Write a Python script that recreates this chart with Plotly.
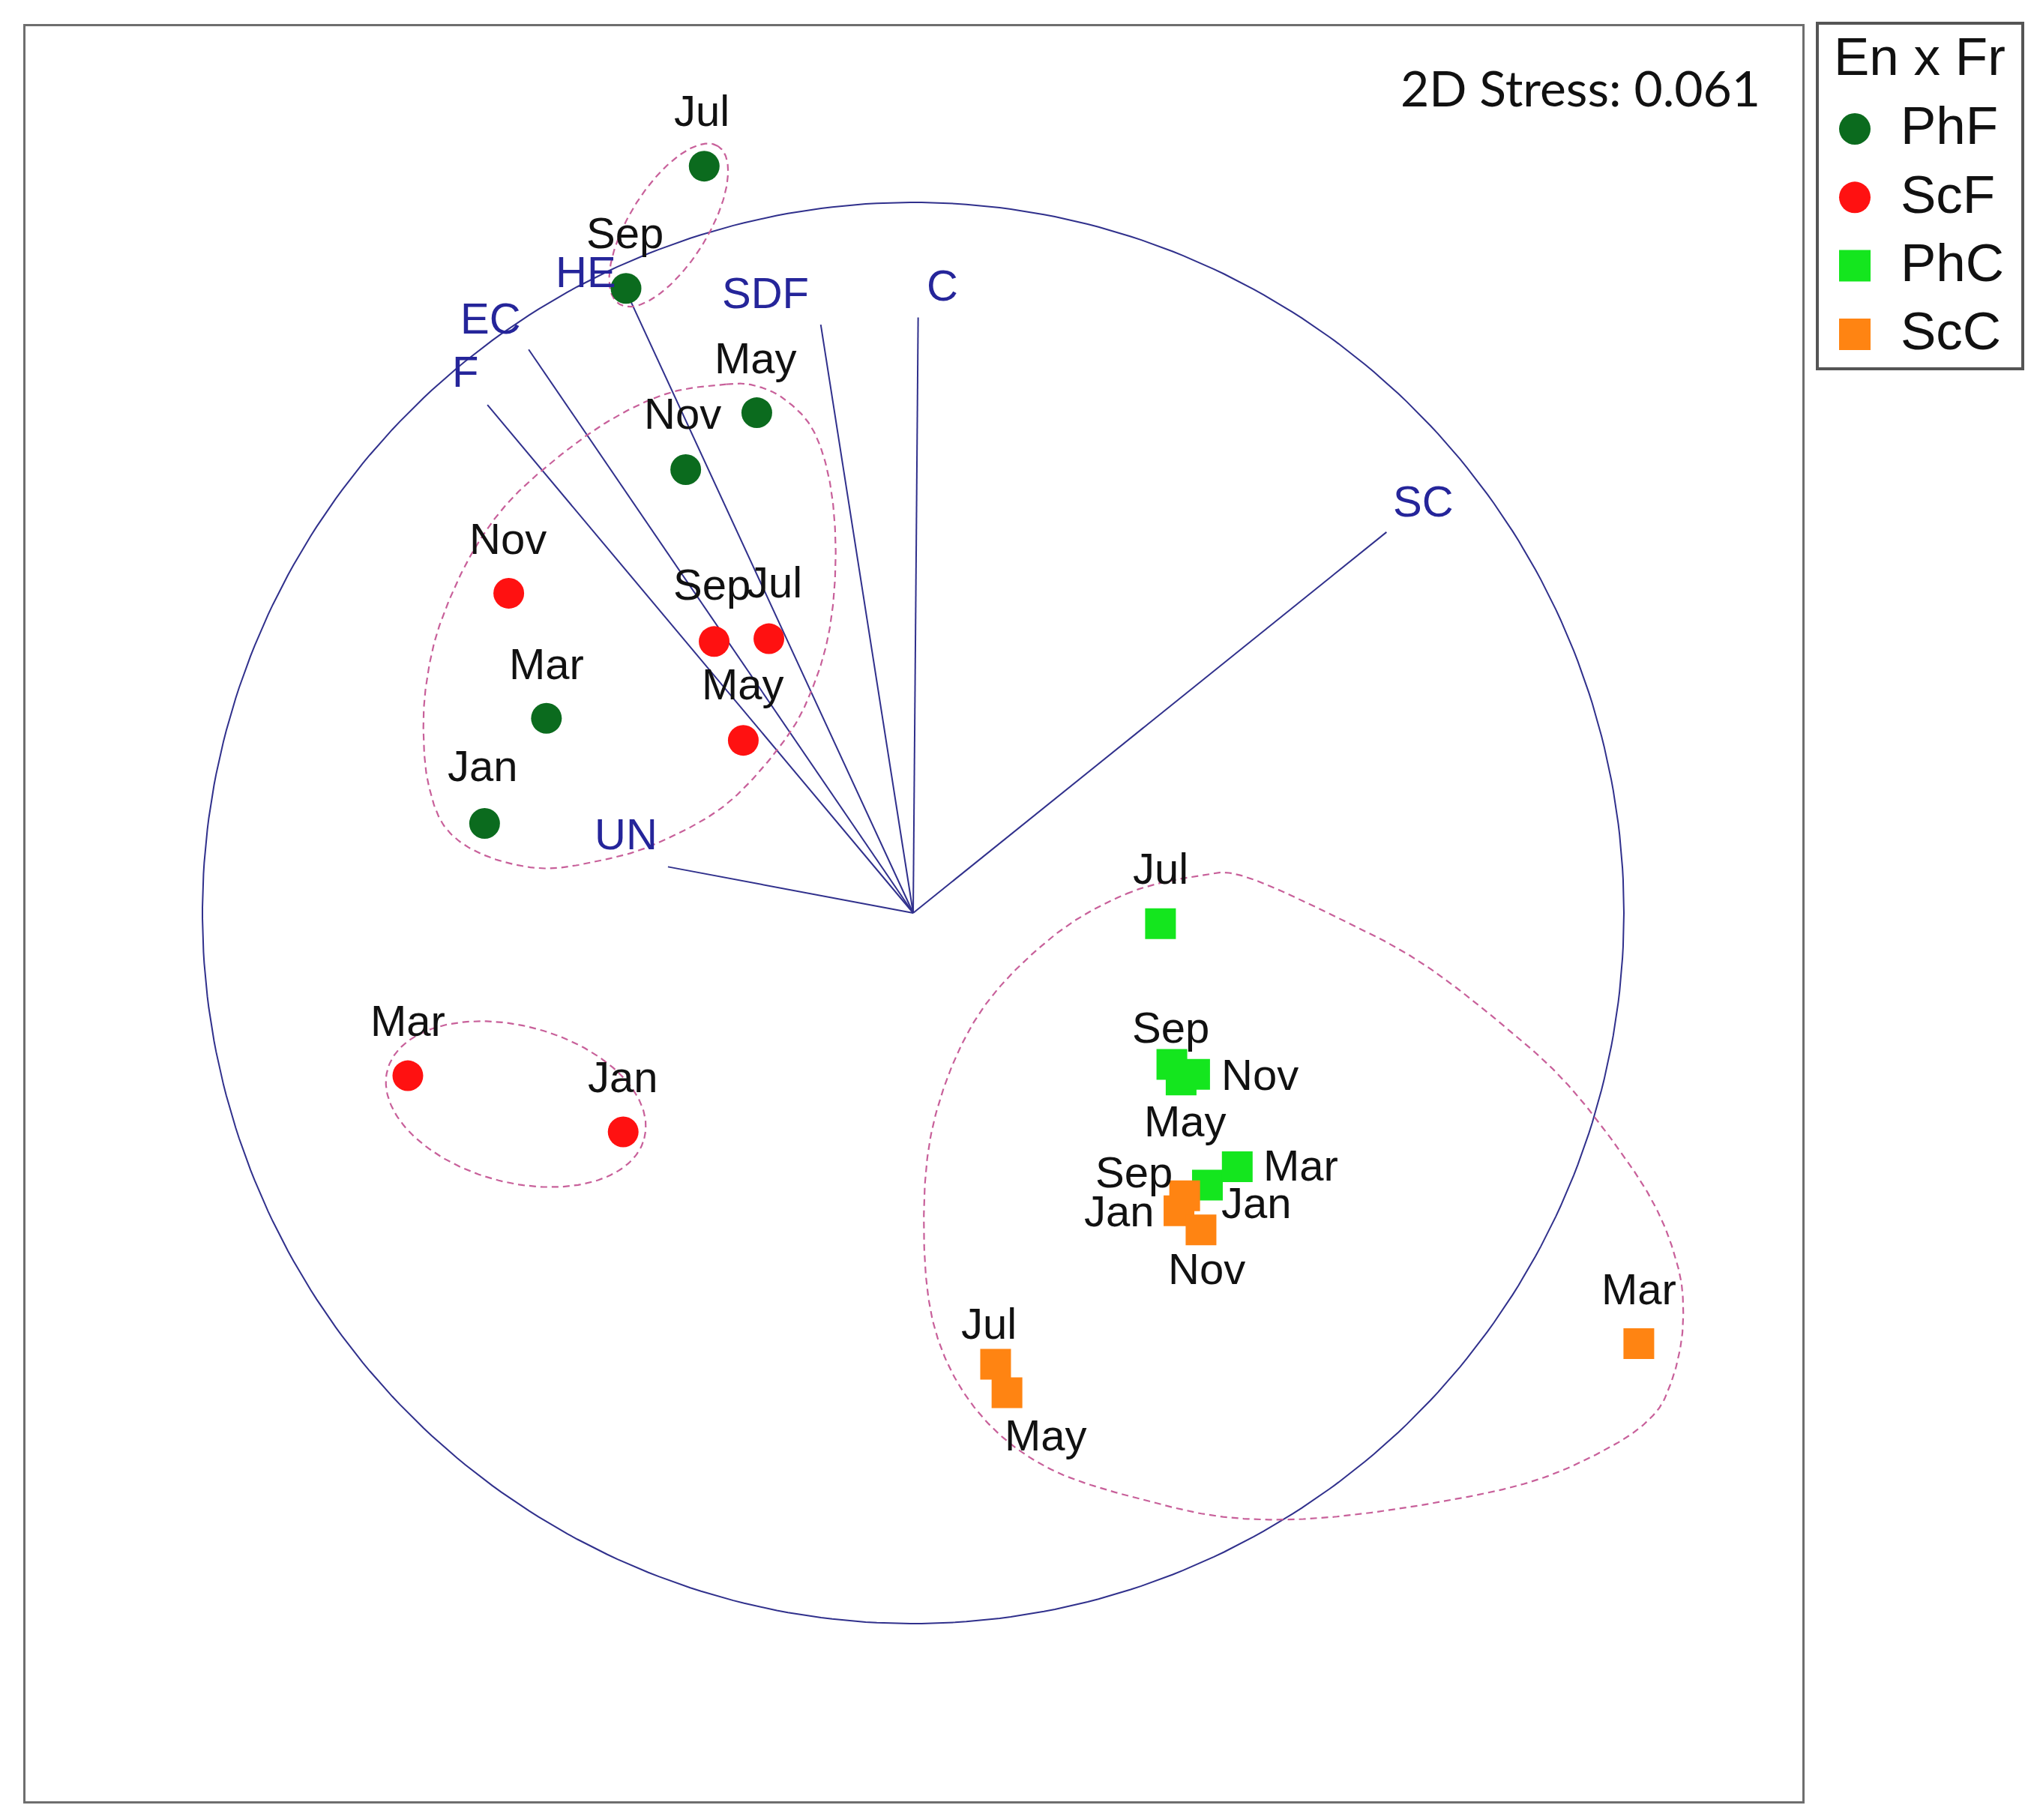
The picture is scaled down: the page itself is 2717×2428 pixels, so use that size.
import numpy as np
import plotly.graph_objects as go

W, H = 2717, 2428

# ---------------- data (NMDS coordinates, vector circle radius = 1) ----------------
months = ["Jan", "Mar", "May", "Jul", "Sep", "Nov"]

phf_x = [-0.603, -0.516, -0.220, -0.294, -0.404, -0.320]
phf_y = [0.126, 0.274, 0.704, 1.051, 0.879, 0.624]

scf_x = [-0.408, -0.711, -0.239, -0.203, -0.280, -0.569]
scf_y = [-0.308, -0.229, 0.243, 0.386, 0.382, 0.450]

phc_x = [0.414, 0.456, 0.377, 0.348, 0.364, 0.396]
phc_y = [-0.383, -0.357, -0.235, -0.015, -0.213, -0.227]

scc_x = [0.374, 1.021, 0.132, 0.116, 0.382, 0.405]
scc_y = [-0.419, -0.606, -0.675, -0.635, -0.398, -0.446]

vec_names = ["C", "SDF", "HE", "EC", "F", "UN", "SC"]
vec_x = [0.007, -0.130, -0.409, -0.541, -0.599, -0.345, 0.666]
vec_y = [0.838, 0.828, 0.886, 0.793, 0.715, 0.065, 0.536]

stress_text = "2D Stress: 0.061"
legend_title = "En x Fr"
group_names = ["PhF", "ScF", "PhC", "ScC"]

# cluster outlines (similarity contours)
clusterA_ellipse = dict(cx=-0.344, cy=0.968, a=0.131, b=0.055, angle=58)
clusterB_x = [-0.263, -0.343, -0.424, -0.504, -0.574, -0.626, -0.667, -0.685, -0.689, -0.682,
              -0.658, -0.605, -0.525, -0.444, -0.363, -0.263, -0.181, -0.141, -0.117, -0.109,
              -0.117, -0.141, -0.181, -0.222]
clusterB_y = [0.744, 0.732, 0.695, 0.638, 0.573, 0.497, 0.403, 0.323, 0.252, 0.181,
              0.120, 0.082, 0.063, 0.073, 0.097, 0.153, 0.243, 0.318, 0.403, 0.506,
              0.605, 0.680, 0.723, 0.742]
clusterC_ellipse = dict(cx=-0.559, cy=-0.269, a=0.187, b=0.110, angle=-15)
clusterD_x = [0.300, 0.400, 0.464, 0.590, 0.715, 0.841, 0.925, 1.008, 1.051, 1.075, 1.083,
              1.081, 1.066, 1.042, 0.987, 0.883, 0.757, 0.590, 0.460, 0.348, 0.194, 0.092,
              0.031, 0.015, 0.031, 0.092, 0.194]
clusterD_y = [0.027, 0.052, 0.052, -0.003, -0.070, -0.167, -0.246, -0.354, -0.427, -0.494, -0.542,
              -0.602, -0.662, -0.706, -0.748, -0.796, -0.826, -0.850, -0.852, -0.832, -0.783, -0.703,
              -0.587, -0.436, -0.286, -0.143, -0.035]

# ---------------- styles ----------------
colors = {"PhF": "#0b6b1e", "ScF": "#ff1111", "PhC": "#14e61e", "ScC": "#ff8412"}
symbols = {"PhF": "circle", "ScF": "circle", "PhC": "square", "ScC": "square"}
navy_line = "#30308c"
navy_text = "#25259a"
dash_col = "#c8609a"
label_font = "Liberation Sans, Arial, sans-serif"

# label offsets in pixels (dx right, dy down)
label_off = {
    "PhF": [(-2, -77), (0, -73), (-1, -73), (-3, -74), (-2, -74), (-4, -75)],
    "ScF": [(0, -73), (0, -74), (0, -75), (7, -76), (-3, -76), (-1, -73)],
    "PhC": [(66, 23), (85, -2), (6, 55), (0, -74), (-2, -49), (87, 0)],
    "ScC": [(-80, 0), (0, -73), (52, 57), (-9, -54), (-68, -32), (8, 52)],
}
vec_label_off = [(32, -43), (-74, -43), (-49, -16), (-51, -42), (-30, -45), (-56, -44), (49, -41)]

# plot frame in pixels
fx0, fx1, fy0, fy1 = 26, 2396, 27, 2395
cpx, cpy, R = 1210, 1210, 948
xr = [(fx0 - cpx) / R, (fx1 - cpx) / R]
yr = [(cpy - fy1) / R, (cpy - fy0) / R]


def ellipse_pts(p, n=200):
    t = np.linspace(0, 2 * np.pi, n)
    th = np.radians(p["angle"])
    u, v = p["a"] * np.cos(t), p["b"] * np.sin(t)
    return p["cx"] + u * np.cos(th) - v * np.sin(th), p["cy"] + u * np.sin(th) + v * np.cos(th)


def closed_spline(xs, ys, n=24):
    P = np.column_stack([xs, ys])
    N = len(P)
    out = []
    for i in range(N):
        p0, p1, p2, p3 = P[i - 1], P[i], P[(i + 1) % N], P[(i + 2) % N]
        for t in np.linspace(0, 1, n, endpoint=False):
            t2, t3 = t * t, t * t * t
            out.append(0.5 * ((2 * p1) + (-p0 + p2) * t + (2 * p0 - 5 * p1 + 4 * p2 - p3) * t2
                              + (-p0 + 3 * p1 - 3 * p2 + p3) * t3))
    out.append(out[0])
    out = np.array(out)
    return out[:, 0], out[:, 1]


fig = go.Figure()

# correlation circle
t = np.linspace(0, 2 * np.pi, 400)
fig.add_trace(go.Scatter(x=np.cos(t), y=np.sin(t), mode="lines",
                         line=dict(color=navy_line, width=2), hoverinfo="skip", showlegend=False))

# vectors
vx, vy = [], []
for x, y in zip(vec_x, vec_y):
    vx += [0, x, None]
    vy += [0, y, None]
fig.add_trace(go.Scatter(x=vx, y=vy, mode="lines", line=dict(color=navy_line, width=2),
                         hoverinfo="skip", showlegend=False))

# cluster outlines
outlines = [ellipse_pts(clusterA_ellipse), closed_spline(clusterB_x, clusterB_y),
            ellipse_pts(clusterC_ellipse), closed_spline(clusterD_x, clusterD_y)]
for ox, oy in outlines:
    fig.add_trace(go.Scatter(x=ox, y=oy, mode="lines",
                             line=dict(color=dash_col, width=2.2, dash="9px,6px"),
                             hoverinfo="skip", showlegend=False))

groups = {"PhF": (phf_x, phf_y), "ScF": (scf_x, scf_y), "PhC": (phc_x, phc_y), "ScC": (scc_x, scc_y)}
annotations = []
for g in group_names:
    xs, ys = groups[g]
    fig.add_trace(go.Scatter(x=xs, y=ys, mode="markers", name=g, text=months,
                             marker=dict(symbol=symbols[g], size=41, color=colors[g], line=dict(width=0)),
                             showlegend=False))
    for x, y, m, (dx, dy) in zip(xs, ys, months, label_off[g]):
        annotations.append(dict(x=x, y=y, xref="x", yref="y", text=m, showarrow=False,
                                xshift=dx, yshift=-dy, xanchor="center", yanchor="middle",
                                font=dict(family=label_font, size=58, color="#111111")))

for name, x, y, (dx, dy) in zip(vec_names, vec_x, vec_y, vec_label_off):
    annotations.append(dict(x=x, y=y, xref="x", yref="y", text=name, showarrow=False,
                            xshift=dx, yshift=-dy, xanchor="center", yanchor="middle",
                            font=dict(family=label_font, size=58, color=navy_text)))

# stress annotation
annotations.append(dict(x=2342 / W, y=1 - 108 / H, xref="paper", yref="paper", text=stress_text,
                        showarrow=False, xanchor="right", yanchor="middle",
                        font=dict(family="Lato, Open Sans, sans-serif", size=66, color="#111111")))

# ---------------- legend (own small axes) ----------------
lg_x0, lg_x1, lg_y0, lg_y1 = 2418, 2688, 25, 482
rows = list(range(len(group_names)))
for i, g in enumerate(group_names):
    fig.add_trace(go.Scatter(x=[48], y=[rows[i]], xaxis="x2", yaxis="y2", mode="markers",
                             marker=dict(symbol=symbols[g], size=42, color=colors[g], line=dict(width=0)),
                             hoverinfo="skip", showlegend=False))
    annotations.append(dict(x=107, y=rows[i], xref="x2", yref="y2", text=g, showarrow=False,
                            xanchor="left", yanchor="middle", yshift=4,
                            font=dict(family=label_font, size=71, color="#111111")))
annotations.append(dict(x=18, y=-1.06, xref="x2", yref="y2", text=legend_title, showarrow=False,
                        xanchor="left", yanchor="middle",
                        font=dict(family=label_font, size=71, color="#111111")))

row_px = 91.3
row0_px = 164
fig.update_layout(
    width=W, height=H, margin=dict(l=0, r=0, t=0, b=0),
    paper_bgcolor="white", plot_bgcolor="white", showlegend=False,
    xaxis=dict(domain=[fx0 / W, fx1 / W], range=xr, showgrid=False, zeroline=False,
               showticklabels=False, ticks="", showline=True, mirror=True,
               linecolor="#6e6e6e", linewidth=3),
    yaxis=dict(domain=[1 - fy1 / H, 1 - fy0 / H], range=yr, showgrid=False, zeroline=False,
               showticklabels=False, ticks="", showline=True, mirror=True,
               linecolor="#6e6e6e", linewidth=3),
    xaxis2=dict(domain=[lg_x0 / W, lg_x1 / W], range=[0, lg_x1 - lg_x0], showgrid=False,
                zeroline=False, showticklabels=False, ticks="", showline=True, mirror=True,
                linecolor="#555555", linewidth=4, anchor="y2"),
    yaxis2=dict(domain=[1 - lg_y1 / H, 1 - lg_y0 / H],
                range=[(lg_y1 - row0_px) / row_px, (lg_y0 - row0_px) / row_px],
                showgrid=False, zeroline=False, showticklabels=False, ticks="", showline=True,
                mirror=True, linecolor="#555555", linewidth=4, anchor="x2"),
    annotations=annotations,
)

fig.write_html("out.html")
